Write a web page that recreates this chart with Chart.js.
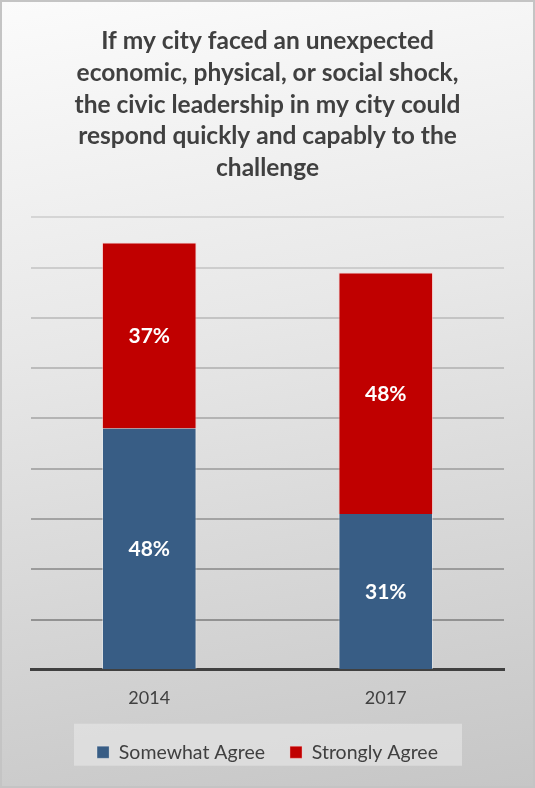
<!DOCTYPE html>
<html>
<head>
<meta charset="utf-8">
<script src="https://cdn.jsdelivr.net/npm/chart.js@4"></script>
<style>
  html, body { margin: 0; padding: 0; }
  #frame {
    box-sizing: border-box;
    width: 535px;
    height: 788px;
    border: 2px solid #c4c4c4;
    background: linear-gradient(170deg, #fbfbfb 0%, #e8e8e8 40%, #d4d4d4 75%, #c6c6c6 100%);
  }
</style>
</head>
<body>
<div id="frame"><canvas id="chart" width="531" height="784"></canvas></div>
<script>
// ---------------- DATA ----------------
const years = ["2014", "2017"];
const somewhatAgree = [48, 31];
const stronglyAgree = [37, 48];
const titleLines = [
  "If my city faced an unexpected",
  "economic, physical, or social shock,",
  "the civic leadership in my city could",
  "respond quickly and capably to the",
  "challenge",
];

const FONT = "Lato, 'Open Sans', sans-serif";
const TEXT = "#404040";

// ---------------- PLUGINS ----------------
// percent labels inside each segment
const segmentLabels = {
  id: "segmentLabels",
  afterDatasetsDraw(chart) {
    const ctx = chart.ctx;
    ctx.save();
    ctx.fillStyle = "#ffffff";
    ctx.font = "bold 21px " + FONT;
    ctx.textAlign = "center";
    ctx.textBaseline = "middle";
    chart.data.datasets.forEach((ds, i) => {
      chart.getDatasetMeta(i).data.forEach((bar, j) => {
        const y = (bar.y + bar.base) / 2;
        ctx.fillText(ds.data[j] + "%", bar.x, y + 1);
      });
    });
    ctx.restore();
  },
};

// light panel behind the legend
const legendPanel = {
  id: "legendPanel",
  beforeDraw(chart) {
    const lg = chart.legend;
    if (!lg) return;
    const ctx = chart.ctx;
    const mid = lg.top + lg.height / 2;
    ctx.save();
    ctx.fillStyle = "rgba(232,232,232,0.6)";
    ctx.fillRect(72, mid - 21, 388, 42);
    ctx.restore();
  },
};

// ---------------- CHART ----------------
new Chart(document.getElementById("chart"), {
  type: "bar",
  data: {
    labels: years,
    datasets: [
      {
        label: "Somewhat Agree",
        data: somewhatAgree,
        backgroundColor: "#385d85",
        borderColor: "rgba(255,255,255,0.45)",
        borderWidth: { left: 1, right: 1, top: 0, bottom: 0 },
        barPercentage: 0.4,
        categoryPercentage: 1,
      },
      {
        label: "Strongly Agree",
        data: stronglyAgree,
        backgroundColor: "#c00000",
        borderColor: "rgba(255,190,190,0.5)",
        borderWidth: { left: 1, right: 1, top: 1, bottom: 0 },
        barPercentage: 0.4,
        categoryPercentage: 1,
      },
    ],
  },
  options: {
    responsive: false,
    animation: false,
    layout: { padding: { left: 29, right: 29, top: 8, bottom: 14 } },
    scales: {
      x: {
        stacked: true,
        grid: { display: false },
        border: { display: true, color: "#404040", width: 3 },
        ticks: { color: TEXT, font: { family: FONT, size: 18 }, padding: 9 },
      },
      y: {
        stacked: true,
        min: 0,
        max: 90,
        ticks: { display: false, stepSize: 10 },
        border: { display: false },
        grid: {
          drawTicks: false,
          lineWidth: 2,
          color: (c) => {
            const t = c.tick ? c.tick.value / 90 : 0;
            const v = Math.round(138 + t * 75);
            return `rgb(${v},${v},${v})`;
          },
        },
      },
    },
    plugins: {
      title: {
        display: true,
        text: titleLines,
        color: TEXT,
        font: { family: FONT, size: 24.5, weight: "bold", lineHeight: 1.3 },
        padding: { top: 15, bottom: 33 },
      },
      legend: {
        position: "bottom",
        labels: {
          color: TEXT,
          font: { family: FONT, size: 19.5 },
          boxWidth: 12,
          boxHeight: 12,
          padding: 25,
        },
      },
      tooltip: { enabled: false },
    },
  },
  plugins: [legendPanel, segmentLabels],
});
</script>
</body>
</html>
